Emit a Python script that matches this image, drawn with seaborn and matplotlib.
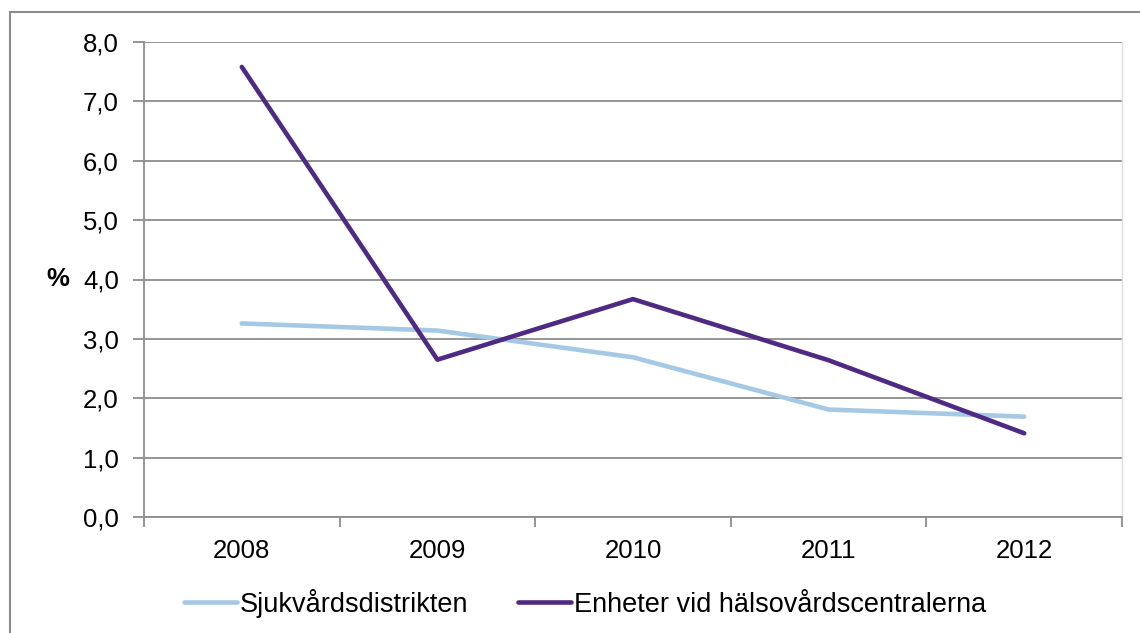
import matplotlib
matplotlib.use("Agg")
import matplotlib.pyplot as plt
import seaborn as sns
import pandas as pd
from matplotlib.patches import Rectangle
from matplotlib.ticker import FixedLocator, FuncFormatter

years = ["2008", "2009", "2010", "2011", "2012"]
sjukvard = [3.26, 3.14, 2.69, 1.81, 1.69]
enheter = [7.58, 2.65, 3.67, 2.64, 1.41]
series_names = ["Sjukvårdsdistrikten", "Enheter vid hälsovårdscentralerna"]
colors = ["#A5C8E4", "#4F2A83"]

df = pd.DataFrame({
    "year": years * 2,
    "value": sjukvard + enheter,
    "series": [series_names[0]] * len(years) + [series_names[1]] * len(years),
})
df["x"] = df["year"].map({y: i for i, y in enumerate(years)})

sns.set_style("white")
plt.rcParams["font.family"] = ["Liberation Sans", "DejaVu Sans"]
plt.rcParams["text.color"] = "black"
plt.rcParams["xtick.labelcolor"] = "black"
plt.rcParams["ytick.labelcolor"] = "black"
plt.rcParams["axes.labelcolor"] = "black"

fig = plt.figure(figsize=(11.4, 6.33), dpi=100)
ax = fig.add_axes([144 / 1140, 1 - 517 / 633, (1122 - 144) / 1140, (517 - 42) / 633])

sns.lineplot(data=df, x="x", y="value", hue="series", palette=colors,
             linewidth=3.3, ax=ax, legend=True, solid_capstyle="round")

grid = "#8C8C8C"
fs = 18.5
ax.set_xlim(-0.5, 4.5)
ax.set_ylim(0, 8)
ax.set_yticks([0, 1, 2, 3, 4, 5, 6, 7, 8])
ax.yaxis.set_major_formatter(FuncFormatter(lambda v, p: f"{v:.1f}".replace(".", ",")))
ax.yaxis.grid(True, color=grid, linewidth=1.3)
ax.set_axisbelow(True)

ax.set_xticks(range(len(years)))
ax.set_xticklabels(years)
ax.xaxis.set_minor_locator(FixedLocator([-0.5, 0.5, 1.5, 2.5, 3.5, 4.5]))
ax.tick_params(axis="x", which="major", length=0, pad=16, labelsize=fs, labelcolor="black")
ax.tick_params(axis="x", which="minor", length=7, width=1.3, color=grid, direction="out", bottom=True)
ax.tick_params(axis="y", length=8, width=1.3, color=grid, direction="out", left=True, pad=10,
               labelsize=fs, labelcolor="black")

ax.spines["top"].set_visible(False)
ax.spines["right"].set_color("#E0E0E0")
ax.spines["right"].set_linewidth(1.0)
ax.spines["left"].set_color(grid)
ax.spines["left"].set_linewidth(1.3)
ax.spines["bottom"].set_color(grid)
ax.spines["bottom"].set_linewidth(1.3)

ax.set_xlabel("")
ax.set_ylabel("%", rotation=0, fontsize=fs, fontweight="bold", labelpad=18, va="center", color="black")

handles, labels = ax.get_legend_handles_labels()
leg = ax.legend(handles, labels, loc="center", bbox_to_anchor=(0.451, -0.182), ncol=2,
                frameon=False, fontsize=19.5, handlelength=1.95, handletextpad=0.1,
                columnspacing=1.85)
for t in leg.get_texts():
    t.set_color("black")

fig.patches.append(Rectangle((10 / 1140, -0.1), 1.2, 1.1 - 12 / 633, transform=fig.transFigure,
                             fill=False, edgecolor="#8C8C8C", linewidth=1.5))

fig.savefig("out.png", dpi=100)
